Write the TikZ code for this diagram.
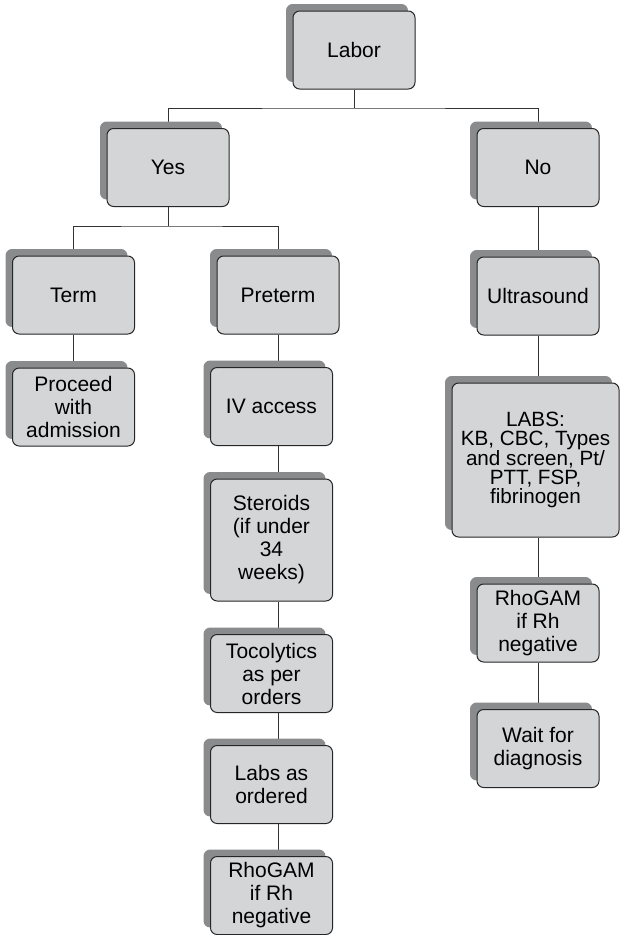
\documentclass[tikz,border=0pt]{standalone}
\usepackage{fontspec}
\setmainfont{Liberation Sans}
\usetikzlibrary{shadows, backgrounds}
\definecolor{boxfill}{RGB}{212,213,215}
\definecolor{boxshade}{RGB}{138,139,141}

\begin{document}
\begin{tikzpicture}[x=0.75pt, y=-0.75pt]
    % --- Styles ---
    \tikzstyle{flow_box}=[draw=black!85, line width=0.75pt, fill=boxfill, rounded corners=5pt, align=center, minimum width=91.5pt, minimum height=58.5pt, inner sep=2pt, font=\fontsize{15.75}{17.25}\selectfont, general shadow={fill=boxshade, shadow xshift=-5.25pt, shadow yshift=5.25pt}]
    \tikzstyle{tall_box}=[flow_box, minimum height=91.5pt]
    \tikzstyle{wide_box}=[flow_box, minimum width=125.25pt, minimum height=115.5pt, font=\fontsize{15.5}{14.25}\selectfont]
    \tikzstyle{link}=[line width=0.7pt, color=black!80]

    \useasboundingbox (0,0) rectangle (620,935);

    % --- 1. Top of the tree ---
    \node[flow_box] (labor) at (354,50) {Labor};
    \node[flow_box] (yes) at (168,167.5) {Yes};
    \node[flow_box] (no) at (538,167.5) {No};

    % --- 2. Yes branch ---
    \node[flow_box] (term) at (73.5,295) {Term};
    \node[flow_box] (preterm) at (278,295) {Preterm};
    \node[flow_box] (proceed) at (73.5,407) {Proceed\\with\\admission};
    \node[flow_box] (iv) at (271.5,406.5) {IV access};
    \node[tall_box] (steroids) at (271.5,540) {Steroids\\(if under\\34\\weeks)};
    \node[flow_box] (toco) at (271.5,673.5) {Tocolytics\\as per\\orders};
    \node[flow_box] (labs) at (271.5,784.5) {Labs as\\ordered};
    \node[flow_box] (rhoL) at (271.5,895.5) {RhoGAM\\if Rh\\negative};

    % --- 3. No branch ---
    \node[flow_box] (ultra) at (538,296) {Ultrasound};
    \node[wide_box] (labpanel) at (535.5,460) {LABS:\\KB, CBC, Types\\and screen, Pt/\\PTT, FSP,\\fibrinogen};
    \node[flow_box] (rhoR) at (538,623) {RhoGAM\\if Rh\\negative};
    \node[flow_box] (wait) at (538,748.5) {Wait for\\diagnosis};

    % --- 4. Connectors (behind the shadows) ---
    \begin{scope}[on background layer]
        \coordinate (top_bus) at (354,108);
        \coordinate (yes_bus) at (168,226);
        \draw[link] (labor.south) -- (top_bus);
        \draw[link] (yes.north) |- (top_bus) -| (no.north);
        \draw[link] (yes.south) -- (yes_bus);
        \draw[link] (term.north) |- (yes_bus) -| (preterm.north);
        \draw[link] (term) -- (proceed);
        \draw[link] (preterm.south) -- (iv.north -| preterm);
        \foreach \a/\b in {iv/steroids, steroids/toco, toco/labs, labs/rhoL}
            \draw[link] (\a.south -| preterm) -- (\b.north -| preterm);
        \foreach \a/\b in {no/ultra, ultra/labpanel, labpanel/rhoR, rhoR/wait}
            \draw[link] (\a.south -| no) -- (\b.north -| no);
    \end{scope}

\end{tikzpicture}
\end{document}
